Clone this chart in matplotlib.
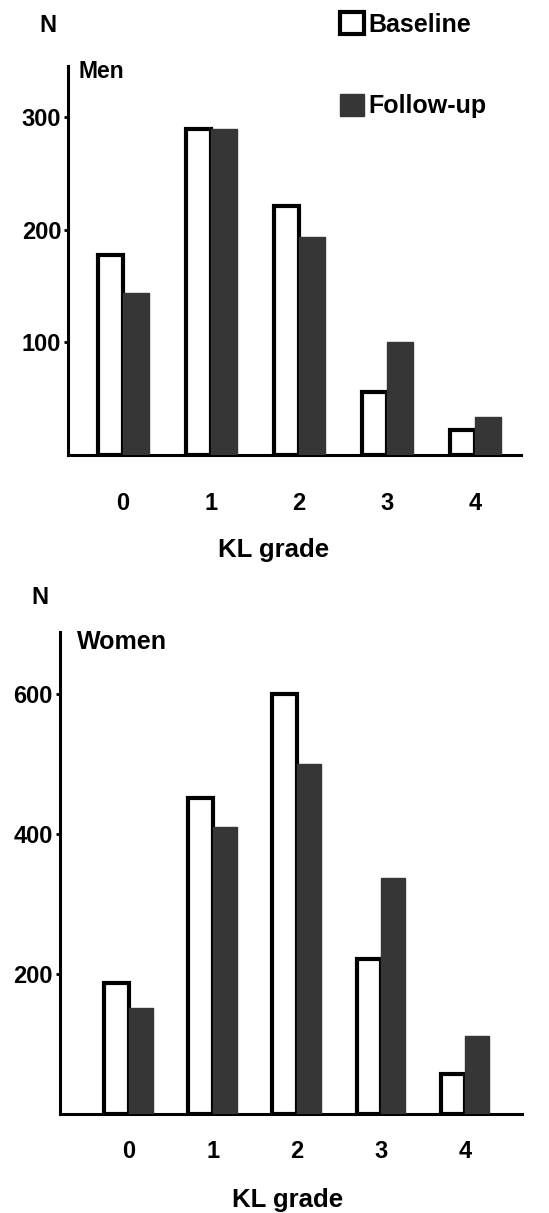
import matplotlib.pyplot as plt
import numpy as np

plt.rcParams['font.family'] = ['Liberation Sans', 'DejaVu Sans']
plt.rcParams['font.weight'] = 'bold'

grades = ['0', '1', '2', '3', '4']
men_baseline = [178, 290, 221, 56, 22]
men_followup = [144, 290, 194, 100, 34]
women_baseline = [187, 452, 600, 221, 57]
women_followup = [152, 410, 500, 337, 111]
men_yticks = [100, 200, 300]
women_yticks = [200, 400, 600]

dark = '#363636'

fig = plt.figure(figsize=(5.49, 12.13), dpi=100)


def panel(rect, base, follow, yticks, ylim, xlim, w, pad):
    ax = fig.add_axes(rect)
    x = np.arange(len(grades))
    b1 = ax.bar(x - w / 2, base, w, facecolor='white', edgecolor='black', linewidth=3, zorder=3)
    b2 = ax.bar(x + w / 2, follow, w, facecolor=dark, edgecolor=dark, linewidth=1, zorder=3)
    ax.set_xlim(*xlim)
    ax.set_ylim(*ylim)
    ax.set_yticks(yticks)
    ax.set_xticks(x)
    ax.set_xticklabels(grades)
    for s in ['top', 'right']:
        ax.spines[s].set_visible(False)
    for s in ['left', 'bottom']:
        ax.spines[s].set_linewidth(2.2)
    ax.tick_params(axis='y', length=3, width=2, pad=2, labelsize=17)
    ax.tick_params(axis='x', length=0, pad=pad, labelsize=17)
    return ax, b1, b2


ax1, h1, h2 = panel([0.124, 0.625, 0.825, 0.321], men_baseline, men_followup,
                    men_yticks, (0, 346), (-0.625, 4.52), 0.29, 27)
ax2, _, _ = panel([0.109, 0.0816, 0.842, 0.3974], women_baseline, women_followup,
                  women_yticks, (0, 689), (-0.82, 4.68), 0.29, 19)

fig.text(48 / 549, 1 - 25 / 1213, 'N', fontsize=17, ha='center', va='center')
fig.text(40 / 549, 1 - 597 / 1213, 'N', fontsize=17, ha='center', va='center')
fig.text(79 / 549, 1 - 72 / 1213, 'Men', fontsize=16.5, ha='left', va='center')
fig.text(77 / 549, 1 - 642 / 1213, 'Women', fontsize=18, ha='left', va='center')
fig.text(274 / 549, 1 - 550 / 1213, 'KL grade', fontsize=18.5, ha='center', va='center')
fig.text(288 / 549, 1 - 1200 / 1213, 'KL grade', fontsize=18.5, ha='center', va='center')

fig.legend([h1, h2], ['Baseline', 'Follow-up'], loc='upper left',
           bbox_to_anchor=(0.619, 0.99), frameon=False, fontsize=18,
           handlelength=0.95, handleheight=0.95, handletextpad=0.2,
           labelspacing=2.3, borderpad=0, borderaxespad=0)

fig.savefig('out.png', dpi=100)
